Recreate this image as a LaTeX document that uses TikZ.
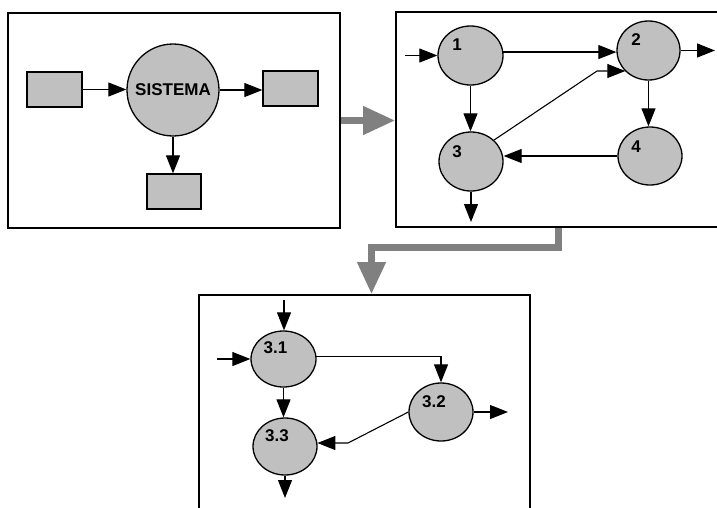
\documentclass[tikz,border=0pt]{standalone}
\usepackage{fontspec}
\setmainfont{Liberation Sans}
\usetikzlibrary{arrows.meta,shapes.geometric}
\definecolor{fillg}{HTML}{C0C0C0}
\definecolor{bigg}{HTML}{808080}
\begin{document}
\begin{tikzpicture}[x=1pt,y=-1pt,
  box/.style={draw,line width=1.6pt,rectangle,inner sep=0pt},
  proc/.style={draw,line width=1.3pt,fill=fillg,ellipse,inner sep=0pt},
  blk/.style={draw,line width=1.3pt,fill=fillg,rectangle,inner sep=0pt},
  arr/.style={line width=1.1pt,-{Triangle[length=18pt,width=14pt]}},
  bigarr/.style={line width=7pt,draw=bigg,line join=miter,-{Triangle[length=32pt,width=27pt]}},
  lbl/.style={font=\bfseries\fontsize{17}{19}\selectfont,inner sep=0pt}]
\useasboundingbox (0,0) rectangle (717,507);
\clip (0,0) rectangle (717,507);
% boxes
\node[box,minimum width=332pt,minimum height=215pt] (b1) at (174,120.5) {};
\node[box,minimum width=334pt,minimum height=215pt] (b2) at (563,119.5) {};
\node[box,minimum width=331pt,minimum height=230pt] (b3) at (364.5,410) {};
% gray arrows
\coordinate (g1) at (558.5,247.5);
\coordinate (g2) at (371.5,247.5);
\draw[bigarr] (b1.east) -- (b1.east -| b2.west);
\draw[bigarr] (g1 |- b2.south) -- (g1) -- (g2) -- (g2 |- b3.north);
% box 1
\node[blk,minimum width=55pt,minimum height=35pt] (r1) at (54.5,89.5) {};
\node[blk,minimum width=55pt,minimum height=35pt] (r2) at (290.5,88.5) {};
\node[blk,minimum width=54pt,minimum height=35pt] (r3) at (174,191.5) {};
\node[proc,circle,minimum size=92pt,lbl] (sys) at (173,90) {SISTEMA};
\draw[arr] (r1.east) -- (r1.east -| sys.west);
\draw[arr] (sys.east) -- (sys.east -| r2.west);
\draw[arr] (sys.south) -- (sys.south |- r3.north);
% box 2
\node[proc,minimum width=65pt,minimum height=59pt] (e1) at (470.5,55.5) {};
\node[proc,minimum width=63pt,minimum height=59pt] (e2) at (648.5,50.5) {};
\node[proc,minimum width=64pt,minimum height=59pt] (e3) at (471,161.5) {};
\node[proc,minimum width=64pt,minimum height=58pt] (e4) at (650,156) {};
\node[lbl] (t1) at (457,44.5) {1};
\node[lbl] (t2) at (636,39.5) {2};
\node[lbl] (t3) at (457,152) {3};
\node[lbl] (t4) at (636,147) {4};
\coordinate (in1) at (405,55.5);
\coordinate (out2) at (715,50.5);
\coordinate (out3) at (469,222);
\coordinate (k1) at (597,71);
\draw[arr] (in1) -- (e1.west);
\draw[arr] (e1.6) -- (e1.6 -| e2.west);
\draw[arr] (e2.east) -- (e2.east -| out2);
\draw[arr] (e3.43) -- (k1) -- (k1 -| e2.222);
\draw[arr] (e1.south) -- (e1.south |- e3.north);
\draw[arr] (e2.south) -- (e2.south |- e4.north);
\draw[arr] (e4.west) -- (e4.west -| e3.east);
\draw[arr] (e3.south) -- (e3.south |- out3);
% box 3
\node[proc,minimum width=65pt,minimum height=56pt] (f1) at (283.5,359) {};
\node[proc,minimum width=64pt,minimum height=58pt] (f2) at (441,412) {};
\node[proc,minimum width=64pt,minimum height=57pt] (f3) at (285,446.5) {};
\node[lbl] (s1) at (275.5,348) {3.1};
\node[lbl] (s2) at (434,401.5) {3.2};
\node[lbl] (s3) at (277,435.5) {3.3};
\coordinate (in31a) at (284,300);
\coordinate (in31b) at (217,359);
\coordinate (k3) at (348,443);
\coordinate (out32) at (508,412);
\coordinate (out33) at (286,498);
\draw[arr] (in31a) -- (in31a |- f1.north);
\draw[arr] (in31b) -- (f1.west);
\draw[arr] (f1.5) -| (f2.north);
\draw[arr] (f1.south) -- (f1.south |- f3.north);
\draw[arr] (f2.west) -- (k3) -- (k3 -| f3.6);
\draw[arr] (f2.east) -- (f2.east -| out32);
\draw[arr] (f3.south) -- (f3.south |- out33);
\end{tikzpicture}
\end{document}
